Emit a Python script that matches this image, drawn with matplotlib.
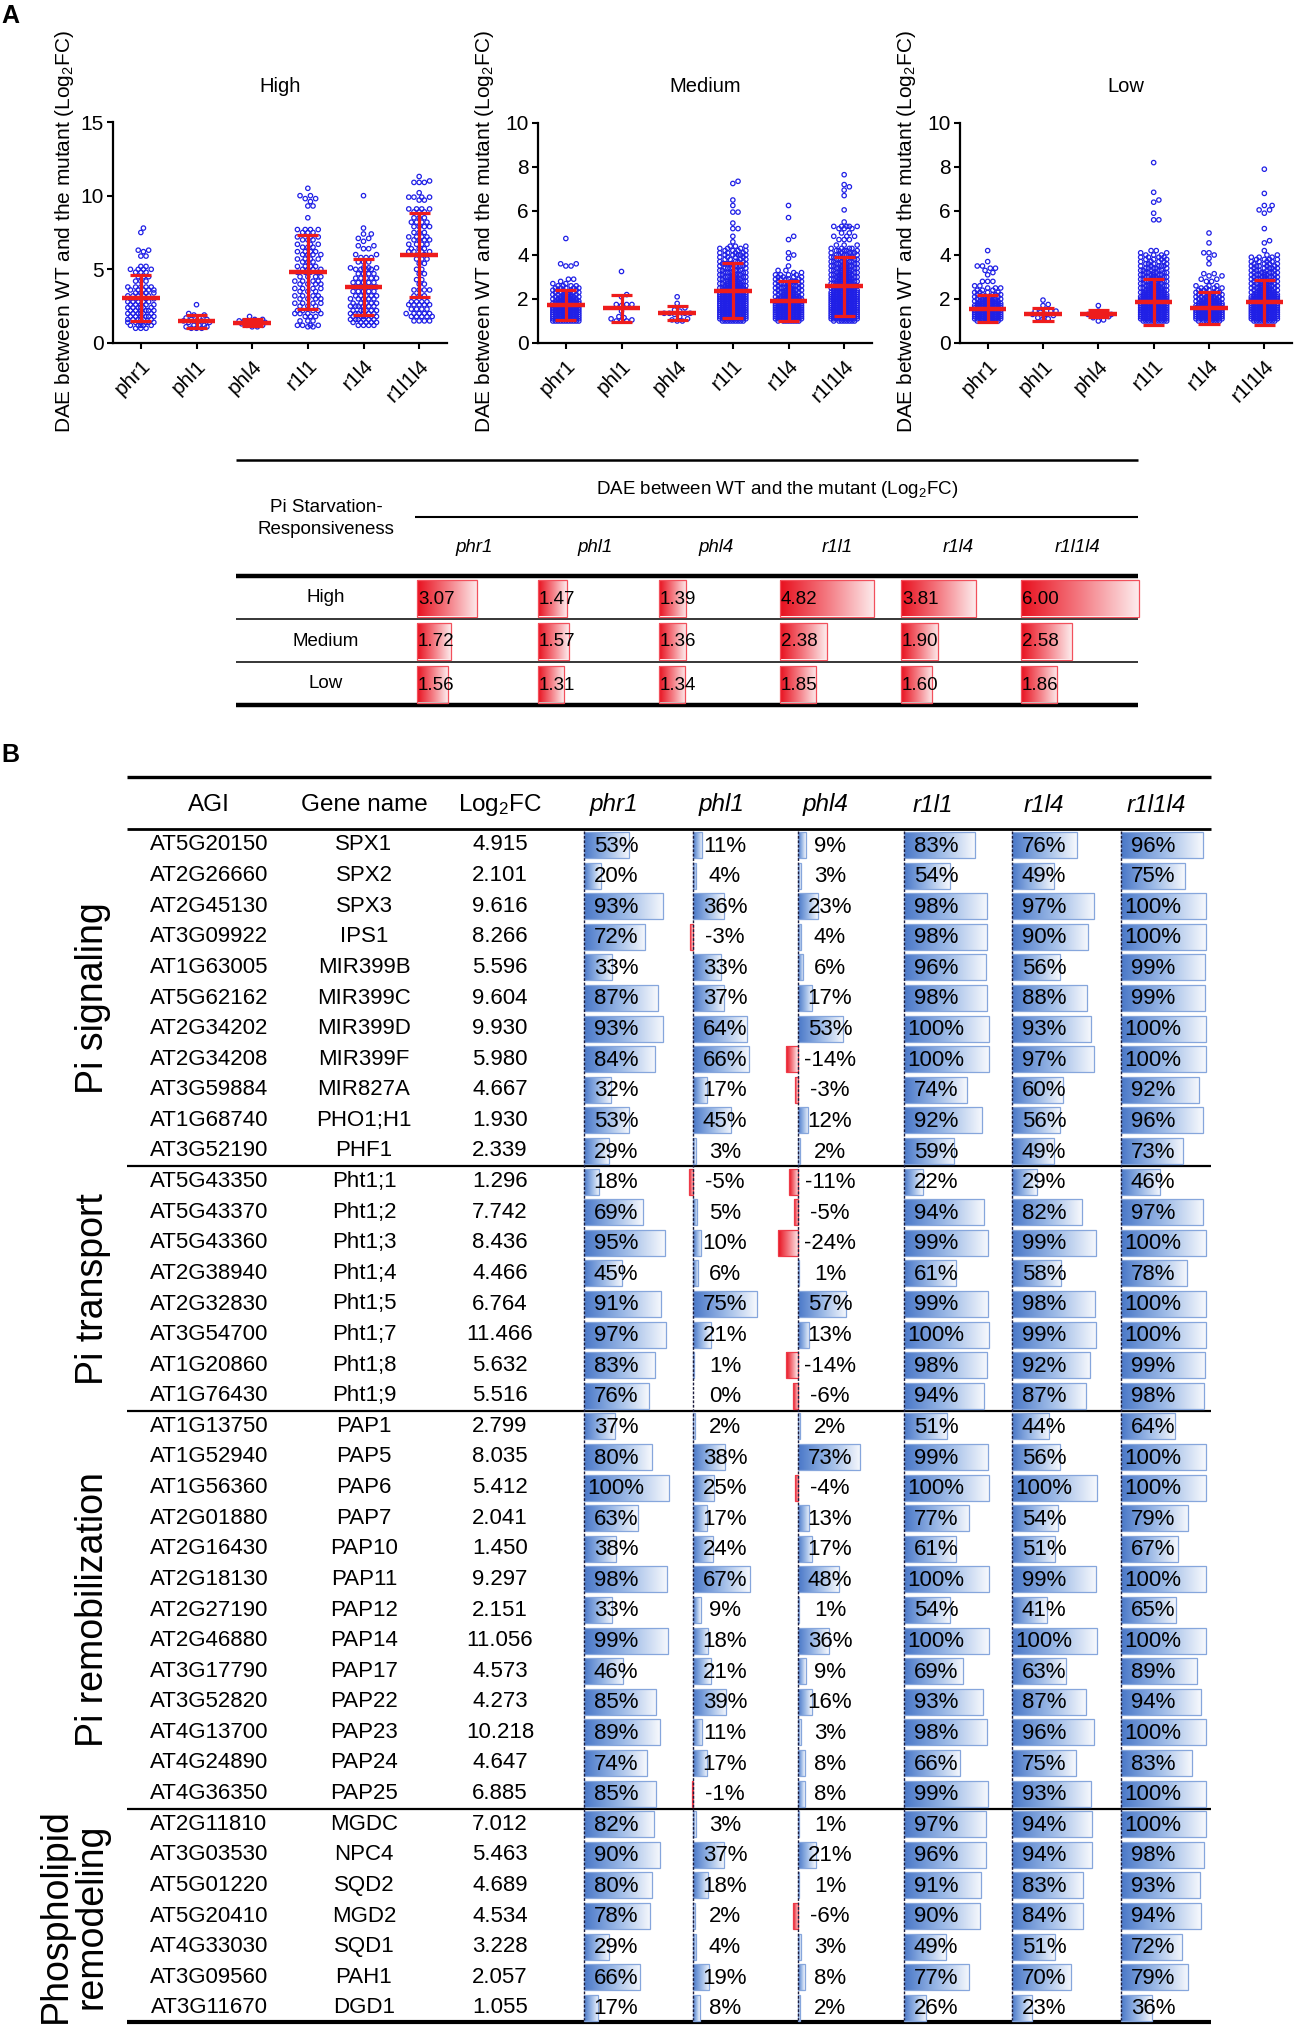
import numpy as np
import matplotlib
matplotlib.use('Agg')
import matplotlib.pyplot as plt
from matplotlib.colors import LinearSegmentedColormap

plt.rcParams['font.family'] = ['Liberation Sans', 'DejaVu Sans']
plt.rcParams['mathtext.default'] = 'regular'

# ---------------- data: panel A scatter (levels + how many genes at each level)
mutants = ['phr1', 'phl1', 'phl4', 'r1l1', 'r1l4', 'r1l1l4']

high_levels = [
    [7.8, 7.5, 6.3, 6.2, 5.9, 5.2, 5.0, 4.8, 4.5, 4.2, 3.8, 3.6, 3.4, 3.2, 3.0, 2.8, 2.6, 2.4, 2.2, 2.0, 1.8, 1.6, 1.4, 1.2, 1.0],
    [2.6, 2.0, 1.9, 1.7, 1.6, 1.5, 1.4, 1.2, 1.1, 1.0],
    [1.8, 1.6, 1.5, 1.4, 1.3, 1.2, 1.1],
    [10.5, 10.0, 9.8, 9.6, 9.3, 8.5, 7.7, 7.5, 7.2, 7.0, 6.7, 6.5, 6.2, 6.0, 5.7, 5.5, 5.2, 5.0, 4.8, 4.5, 4.2, 4.0, 3.7, 3.5, 3.2, 3.0, 2.7, 2.5, 2.2, 2.0, 1.8, 1.5, 1.2, 1.1],
    [10.0, 7.8, 7.4, 7.1, 6.9, 6.6, 6.4, 6.0, 5.8, 5.5, 5.1, 5.0, 4.7, 4.4, 4.1, 3.8, 3.5, 3.2, 3.0, 2.7, 2.5, 2.2, 2.0, 1.8, 1.6, 1.4, 1.2],
    [11.3, 11.0, 10.9, 10.2, 9.9, 9.7, 9.1, 8.9, 8.5, 8.2, 7.9, 7.5, 7.2, 7.0, 6.7, 6.4, 6.2, 6.0, 5.7, 5.4, 5.0, 4.7, 4.3, 4.0, 3.6, 3.2, 2.8, 2.6, 2.3, 2.0, 1.8, 1.5],
]
high_counts = [
    [1, 1, 2, 1, 2, 2, 4, 3, 3, 3, 5, 5, 4, 5, 5, 5, 5, 6, 6, 6, 6, 6, 6, 5, 3],
    [1, 1, 2, 2, 2, 3, 2, 3, 2, 3],
    [1, 2, 2, 3, 2, 2, 2],
    [1, 2, 2, 1, 2, 1, 4, 3, 3, 3, 3, 3, 4, 4, 4, 3, 4, 4, 4, 4, 4, 4, 4, 3, 4, 4, 4, 3, 4, 4, 3, 3, 4, 2],
    [1, 1, 2, 2, 1, 2, 2, 2, 3, 3, 4, 4, 4, 5, 5, 5, 5, 5, 5, 5, 6, 6, 6, 6, 6, 5, 4],
    [1, 1, 3, 1, 4, 2, 4, 3, 3, 4, 4, 3, 4, 4, 4, 3, 4, 2, 3, 2, 2, 2, 2, 2, 4, 3, 4, 5, 4, 5, 5, 4],
]

medium_levels = [
    [4.75, 3.6, 3.5, 2.9, 2.8, 2.7, 2.6, 2.5, 2.4, 2.3, 2.2, 2.1, 2.0, 1.9, 1.8, 1.7, 1.6, 1.5, 1.4, 1.3, 1.2, 1.1, 1.0],
    [3.25, 2.2, 2.1, 1.75, 1.7, 1.45, 1.2, 1.15, 1.1, 1.05, 1.0],
    [2.1, 1.8, 1.6, 1.5, 1.45, 1.35, 1.3, 1.2, 1.1, 1.05, 1.0],
    [7.35, 7.25, 6.5, 6.25, 5.95, 5.45, 5.2, 4.85, 4.6, 4.4, 4.3, 4.2, 4.1, 4.0, 3.9, 3.8, 3.7, 3.6, 3.5, 3.4, 3.3, 3.2, 3.1, 3.0, 2.9, 2.8, 2.7, 2.6, 2.5, 2.4, 2.3, 2.2, 2.1, 2.0, 1.9, 1.8, 1.7, 1.6, 1.5, 1.4, 1.3, 1.2, 1.1, 1.0],
    [6.25, 5.7, 4.85, 4.7, 4.1, 4.0, 3.85, 3.5, 3.3, 3.2, 3.1, 3.0, 2.9, 2.8, 2.7, 2.6, 2.5, 2.4, 2.3, 2.2, 2.1, 2.0, 1.9, 1.8, 1.7, 1.6, 1.5, 1.4, 1.3, 1.2, 1.1, 1.0],
    [7.65, 7.2, 7.1, 6.95, 6.7, 6.05, 5.5, 5.3, 5.2, 5.0, 4.85, 4.7, 4.45, 4.3, 4.2, 4.1, 4.0, 3.9, 3.8, 3.7, 3.6, 3.5, 3.4, 3.3, 3.2, 3.1, 3.0, 2.9, 2.8, 2.7, 2.6, 2.5, 2.4, 2.3, 2.2, 2.1, 2.0, 1.9, 1.8, 1.7, 1.6, 1.5, 1.4, 1.3, 1.2, 1.1, 1.0],
]
medium_counts = [
    [1, 2, 2, 2, 1, 2, 4, 5, 5, 6, 7, 8, 9, 10, 11, 12, 13, 14, 15, 16, 16, 15, 11],
    [1, 1, 1, 3, 1, 1, 1, 1, 1, 1, 3],
    [1, 1, 1, 1, 1, 4, 1, 1, 1, 1, 2],
    [1, 1, 1, 1, 2, 1, 2, 1, 1, 3, 3, 4, 4, 5, 4, 4, 4, 6, 5, 5, 5, 6, 6, 7, 7, 8, 8, 9, 10, 10, 11, 12, 13, 14, 14, 15, 15, 15, 16, 16, 16, 15, 13, 9],
    [1, 1, 1, 1, 1, 1, 1, 1, 2, 2, 4, 4, 5, 5, 6, 6, 7, 7, 8, 8, 9, 10, 11, 11, 12, 12, 13, 13, 13, 13, 11, 8],
    [1, 1, 1, 1, 1, 1, 1, 5, 3, 2, 3, 3, 3, 4, 5, 5, 5, 5, 6, 6, 6, 7, 7, 7, 8, 8, 8, 8, 9, 9, 9, 10, 10, 11, 11, 12, 12, 13, 13, 13, 13, 13, 13, 13, 12, 11, 8],
]

low_levels = [
    [4.2, 3.7, 3.5, 3.4, 3.3, 3.2, 3.1, 2.8, 2.6, 2.5, 2.4, 2.3, 2.2, 2.1, 2.0, 1.9, 1.8, 1.7, 1.6, 1.5, 1.4, 1.3, 1.2, 1.1, 1.0],
    [1.95, 1.75, 1.7, 1.45, 1.4, 1.3, 1.25, 1.15, 1.1],
    [1.7, 1.45, 1.35, 1.3, 1.25, 1.2, 1.15, 1.05, 1.0],
    [8.2, 6.85, 6.5, 6.4, 5.9, 5.6, 4.2, 4.1, 4.0, 3.9, 3.8, 3.7, 3.6, 3.5, 3.4, 3.3, 3.2, 3.1, 3.0, 2.9, 2.8, 2.7, 2.6, 2.5, 2.4, 2.3, 2.2, 2.1, 2.0, 1.9, 1.8, 1.7, 1.6, 1.5, 1.4, 1.3, 1.2, 1.1, 1.0],
    [5.0, 4.55, 4.1, 4.0, 3.85, 3.6, 3.15, 3.05, 2.9, 2.8, 2.6, 2.5, 2.4, 2.3, 2.2, 2.1, 2.0, 1.9, 1.8, 1.7, 1.6, 1.5, 1.4, 1.3, 1.2, 1.1, 1.0],
    [7.9, 6.8, 6.25, 6.05, 5.9, 5.2, 4.65, 4.55, 4.2, 4.0, 3.9, 3.8, 3.7, 3.6, 3.5, 3.4, 3.3, 3.2, 3.1, 3.0, 2.9, 2.8, 2.7, 2.6, 2.5, 2.4, 2.3, 2.2, 2.1, 2.0, 1.9, 1.8, 1.7, 1.6, 1.5, 1.4, 1.3, 1.2, 1.1, 1.0],
]
low_counts = [
    [1, 1, 2, 2, 1, 1, 1, 3, 2, 3, 3, 4, 5, 6, 8, 9, 10, 11, 12, 13, 13, 13, 13, 11, 8],
    [1, 1, 1, 3, 1, 2, 1, 1, 2],
    [1, 1, 1, 3, 1, 1, 1, 1, 1],
    [1, 1, 1, 1, 1, 2, 2, 2, 3, 4, 4, 4, 4, 5, 5, 5, 6, 6, 6, 7, 7, 7, 8, 8, 9, 10, 10, 11, 12, 13, 14, 15, 15, 16, 16, 16, 16, 14, 10],
    [1, 1, 2, 1, 1, 1, 2, 2, 2, 2, 3, 4, 4, 5, 6, 7, 8, 9, 10, 11, 12, 13, 13, 13, 13, 11, 8],
    [1, 1, 2, 2, 1, 1, 1, 1, 1, 2, 3, 4, 4, 4, 5, 5, 5, 6, 6, 6, 6, 7, 7, 7, 8, 8, 9, 10, 11, 12, 13, 13, 14, 14, 15, 15, 15, 15, 13, 9],
]

# mean (= table values) and SD
high_mean = [3.07, 1.47, 1.39, 4.82, 3.81, 6.00]
medium_mean = [1.72, 1.57, 1.36, 2.38, 1.90, 2.58]
low_mean = [1.56, 1.31, 1.34, 1.85, 1.60, 1.86]
high_sd = [1.55, 0.45, 0.22, 2.5, 1.9, 2.85]
medium_sd = [0.67, 0.62, 0.31, 1.25, 0.9, 1.33]
low_sd = [0.62, 0.3, 0.18, 1.05, 0.72, 1.02]

# ---------------- data: table A
resp_levels = ['High', 'Medium', 'Low']
dae_table = [high_mean, medium_mean, low_mean]

# ---------------- data: table B
agi = ['AT5G20150', 'AT2G26660', 'AT2G45130', 'AT3G09922', 'AT1G63005', 'AT5G62162', 'AT2G34202',
       'AT2G34208', 'AT3G59884', 'AT1G68740', 'AT3G52190',
       'AT5G43350', 'AT5G43370', 'AT5G43360', 'AT2G38940', 'AT2G32830', 'AT3G54700', 'AT1G20860', 'AT1G76430',
       'AT1G13750', 'AT1G52940', 'AT1G56360', 'AT2G01880', 'AT2G16430', 'AT2G18130', 'AT2G27190',
       'AT2G46880', 'AT3G17790', 'AT3G52820', 'AT4G13700', 'AT4G24890', 'AT4G36350',
       'AT2G11810', 'AT3G03530', 'AT5G01220', 'AT5G20410', 'AT4G33030', 'AT3G09560', 'AT3G11670']
gene_names = ['SPX1', 'SPX2', 'SPX3', 'IPS1', 'MIR399B', 'MIR399C', 'MIR399D', 'MIR399F', 'MIR827A',
              'PHO1;H1', 'PHF1',
              'Pht1;1', 'Pht1;2', 'Pht1;3', 'Pht1;4', 'Pht1;5', 'Pht1;7', 'Pht1;8', 'Pht1;9',
              'PAP1', 'PAP5', 'PAP6', 'PAP7', 'PAP10', 'PAP11', 'PAP12', 'PAP14', 'PAP17', 'PAP22',
              'PAP23', 'PAP24', 'PAP25',
              'MGDC', 'NPC4', 'SQD2', 'MGD2', 'SQD1', 'PAH1', 'DGD1']
log2fc = ['4.915', '2.101', '9.616', '8.266', '5.596', '9.604', '9.930', '5.980', '4.667', '1.930', '2.339',
          '1.296', '7.742', '8.436', '4.466', '6.764', '11.466', '5.632', '5.516',
          '2.799', '8.035', '5.412', '2.041', '1.450', '9.297', '2.151', '11.056', '4.573', '4.273',
          '10.218', '4.647', '6.885',
          '7.012', '5.463', '4.689', '4.534', '3.228', '2.057', '1.055']
pct_phr1 = [53, 20, 93, 72, 33, 87, 93, 84, 32, 53, 29, 18, 69, 95, 45, 91, 97, 83, 76,
            37, 80, 100, 63, 38, 98, 33, 99, 46, 85, 89, 74, 85, 82, 90, 80, 78, 29, 66, 17]
pct_phl1 = [11, 4, 36, -3, 33, 37, 64, 66, 17, 45, 3, -5, 5, 10, 6, 75, 21, 1, 0,
            2, 38, 25, 17, 24, 67, 9, 18, 21, 39, 11, 17, -1, 3, 37, 18, 2, 4, 19, 8]
pct_phl4 = [9, 3, 23, 4, 6, 17, 53, -14, -3, 12, 2, -11, -5, -24, 1, 57, 13, -14, -6,
            2, 73, -4, 13, 17, 48, 1, 36, 9, 16, 3, 8, 8, 1, 21, 1, -6, 3, 8, 2]
pct_r1l1 = [83, 54, 98, 98, 96, 98, 100, 100, 74, 92, 59, 22, 94, 99, 61, 99, 100, 98, 94,
            51, 99, 100, 77, 61, 100, 54, 100, 69, 93, 98, 66, 99, 97, 96, 91, 90, 49, 77, 26]
pct_r1l4 = [76, 49, 97, 90, 56, 88, 93, 97, 60, 56, 49, 29, 82, 99, 58, 98, 99, 92, 87,
            44, 56, 100, 54, 51, 99, 41, 100, 63, 87, 96, 75, 93, 94, 94, 83, 84, 51, 70, 23]
pct_r1l1l4 = [96, 75, 100, 100, 99, 99, 100, 100, 92, 96, 73, 46, 97, 100, 78, 100, 100, 99, 98,
              64, 100, 100, 79, 67, 100, 65, 100, 89, 94, 100, 83, 100, 100, 98, 93, 94, 72, 79, 36]
group_names = ['Pi signaling', 'Pi transport', 'Pi remobilization', 'Phospholipid\nremodeling']
group_sizes = [11, 8, 13, 7]

# ---------------- figure (everything laid out in pixels of a 1299 x 2032 canvas)
W, H = 1299, 2032
fig = plt.figure(figsize=(W / 100, H / 100), dpi=100)
fig.patch.set_facecolor('white')

lay = fig.add_axes([0, 0, 1, 1])
lay.axis('off')
lay.patch.set_visible(False)

blue_cm = LinearSegmentedColormap.from_list('b', ['#4a78c8', '#9ab8e6', '#f7f9fd'])
red_cm = LinearSegmentedColormap.from_list('r', ['#e8101e', '#f47a82', '#fdeced'])


def px_axes(x0, y0, x1, y1):
    return fig.add_axes([x0 / W, 1 - y1 / H, (x1 - x0) / W, (y1 - y0) / H])


def swarm(vals, px_x, px_y, d=5.2, half=15.0):
    # simple beeswarm in pixel space, returns x offsets in data units
    vals = np.asarray(vals, float)
    order = np.argsort(vals, kind='stable')
    steps = [0.0]
    k = 1
    while k * d / 2 <= half:
        steps += [k * d / 2, -k * d / 2]
        k += 1
    steps = np.array(steps)
    xs = np.zeros(len(vals))
    done_x = np.empty(0)
    done_y = np.empty(0)
    for i in order:
        y = vals[i] * px_y
        near = np.abs(done_y - y) < d
        if near.any():
            dist = np.hypot(steps[:, None] - done_x[near][None, :],
                            y - done_y[near][None, :]).min(axis=1)
            ok = np.flatnonzero(dist >= d * 0.95)
            x = steps[ok[0]] if ok.size else steps[np.argmax(dist)]
        else:
            x = 0.0
        xs[i] = x
        done_x = np.append(done_x, x)
        done_y = np.append(done_y, y)
    return xs / px_x


def grad_bar(ax, left, width, yc, h, cmap, edge):
    bar = ax.barh(yc, width, left=left, height=h, facecolor='none',
                  edgecolor=edge, linewidth=0.9, zorder=3)[0]
    x0, x1 = sorted([left, left + width])
    im = ax.imshow(np.linspace(0, 1, 256)[None, :], cmap=cmap, aspect='auto',
                   extent=[x0, x1, yc + h / 2, yc - h / 2], zorder=2,
                   interpolation='bilinear')
    im.set_clip_path(bar)


# ---------------- panel A: scatter plots
RED = '#ee1c1c'
panels = [
    ('High', high_levels, high_counts, high_mean, high_sd, 15, [0, 5, 10, 15], (113, 122, 447, 343), 65),
    ('Medium', medium_levels, medium_counts, medium_mean, medium_sd, 10, [0, 2, 4, 6, 8, 10], (538, 123, 872, 343), 484),
    ('Low', low_levels, low_counts, low_mean, low_sd, 10, [0, 2, 4, 6, 8, 10], (960, 123, 1292, 343), 907),
]
for title, levels, counts, means, sds, ymax, yticks, box, ylab_x in panels:
    ax = px_axes(*box)
    px_x = (box[2] - box[0]) / 6
    px_y = (box[3] - box[1]) / ymax
    for i in range(6):
        vals = np.repeat(levels[i], counts[i])
        offs = swarm(vals, px_x, px_y)
        ax.scatter(i + offs, vals, s=10, facecolors='none', edgecolors='#2020e6',
                   linewidths=0.9, clip_on=False, zorder=2)
        m, s = means[i], sds[i]
        ax.vlines(i, m - s, m + s, color=RED, lw=2.3, zorder=3)
        ax.hlines([m - s, m + s], i - 0.19, i + 0.19, color=RED, lw=2.3, zorder=3)
        ax.hlines(m, i - 0.34, i + 0.34, color=RED, lw=3.2, zorder=3)
    ax.set_xlim(-0.5, 5.5)
    ax.set_ylim(0, ymax)
    ax.set_yticks(yticks)
    ax.set_xticks(range(6))
    ax.set_xticklabels(mutants, rotation=45, ha='right', rotation_mode='anchor')
    for sp in ['top', 'right']:
        ax.spines[sp].set_visible(False)
    for sp in ['left', 'bottom']:
        ax.spines[sp].set_linewidth(1.6)
    ax.tick_params(axis='both', width=1.5, length=4.5, labelsize=15, pad=2)
    ax.tick_params(axis='x', labelsize=15, pad=5)
    ax.patch.set_visible(False)
    fig.text((box[0] + box[2]) / 2 / W, 1 - 86 / H, title, ha='center', va='center', fontsize=14.5)
    fig.text(ylab_x / W, 1 - 232 / H, 'DAE between WT and the mutant (Log$_2$FC)',
             rotation=90, ha='center', va='center', fontsize=15)

fig.text(10 / W, 1 - 16 / H, 'A', fontsize=18, fontweight='bold', ha='center', va='center')
fig.text(10 / W, 1 - 755 / H, 'B', fontsize=18, fontweight='bold', ha='center', va='center')

# ---------------- panel A: summary table
ta_x0, ta_x1 = 236, 1138
ta_col_left = [417, 538, 659, 780, 901, 1021]
ta_row_y = [598, 641, 684]
ta_scale = 19.6
lay.hlines(460, ta_x0, ta_x1, color='black', lw=1.8)
lay.hlines(517, 415, ta_x1, color='black', lw=1.5)
lay.hlines(576, ta_x0, ta_x1, color='black', lw=3.2)
lay.hlines([619, 662], ta_x0, ta_x1, color='black', lw=1.1)
lay.hlines(705, ta_x0, ta_x1, color='black', lw=3.2)
lay.text(777, 489, 'DAE between WT and the mutant (Log$_2$FC)', ha='center', va='center', fontsize=13.5)
lay.text(326, 507, 'Pi Starvation-', ha='center', va='center', fontsize=13.5)
lay.text(326, 530, 'Responsiveness', ha='center', va='center', fontsize=13.5)
for j, name in enumerate(mutants):
    lay.text(ta_col_left[j] + 57, 548, name, ha='center', va='center', fontsize=13.5, style='italic')
for r, lvl in enumerate(resp_levels):
    lay.text(326, ta_row_y[r], lvl, ha='center', va='center', fontsize=13.5)
    for j in range(6):
        v = dae_table[r][j]
        grad_bar(lay, ta_col_left[j], v * ta_scale, ta_row_y[r], 37, red_cm, '#f2505c')
        lay.text(ta_col_left[j] + 1, ta_row_y[r] + 1, f'{v:.2f}', ha='left', va='center',
                 fontsize=13.5, zorder=4)

# ---------------- panel B: gene table
tb_x0, tb_x1 = 127, 1211
row0, pitch = 845, 30.6
axis_x = [584, 693, 798, 904, 1012, 1121]
pct_scale = 0.85
pct = [pct_phr1, pct_phl1, pct_phl4, pct_r1l1, pct_r1l4, pct_r1l1l4]
n_rows = len(agi)
row_y = [row0 + i * pitch for i in range(n_rows)]

lay.hlines(777, tb_x0, tb_x1, color='black', lw=2.4)
lay.hlines(829, tb_x0, tb_x1, color='black', lw=2.0)
lay.hlines(2022, tb_x0, tb_x1, color='black', lw=3.0)
head_y = 805
lay.text(209, head_y, 'AGI', ha='center', va='center', fontsize=17.5)
lay.text(364, head_y, 'Gene name', ha='center', va='center', fontsize=17.5)
lay.text(500, head_y, 'Log$_2$FC', ha='center', va='center', fontsize=17.5)
head_x = [614, 722, 826, 933, 1044, 1156]
for j, name in enumerate(mutants):
    lay.text(head_x[j], head_y, name, ha='center', va='center', fontsize=17.5, style='italic')

for j in range(6):
    lay.vlines(axis_x[j], 831, 2020, colors='#1b1b3c', linestyles=(0, (2.0, 1.2)), lw=1.0, zorder=5)

for i in range(n_rows):
    y = row_y[i]
    lay.text(209, y, agi[i], ha='center', va='center', fontsize=16)
    lay.text(364, y, gene_names[i], ha='center', va='center', fontsize=16)
    lay.text(500, y, log2fc[i], ha='center', va='center', fontsize=16)
    for j in range(6):
        v = pct[j][i]
        if v > 0:
            grad_bar(lay, axis_x[j], v * pct_scale, y, 26, blue_cm, '#86a6dc')
        elif v < 0:
            grad_bar(lay, axis_x[j], v * pct_scale, y, 26, red_cm, '#ee3a48')
        lay.text(axis_x[j] + 32, y + 1, f'{v}%', ha='center', va='center', fontsize=16, zorder=6)

start = 0
for g, size in enumerate(group_names):
    n = group_sizes[g]
    mid = (row_y[start] + row_y[start + n - 1]) / 2
    if '\n' in size:
        lay.text(74, mid, size, rotation=90, ha='center', va='center', fontsize=27,
                 linespacing=1.0, multialignment='center')
    else:
        lay.text(93, mid, size, rotation=90, ha='center', va='center', fontsize=27)
    if start > 0:
        lay.hlines((row_y[start - 1] + row_y[start]) / 2, tb_x0, tb_x1, color='black', lw=1.6)
    start += n

lay.set_xlim(0, W)
lay.set_ylim(H, 0)

fig.savefig('out.png', dpi=100, facecolor='white')
